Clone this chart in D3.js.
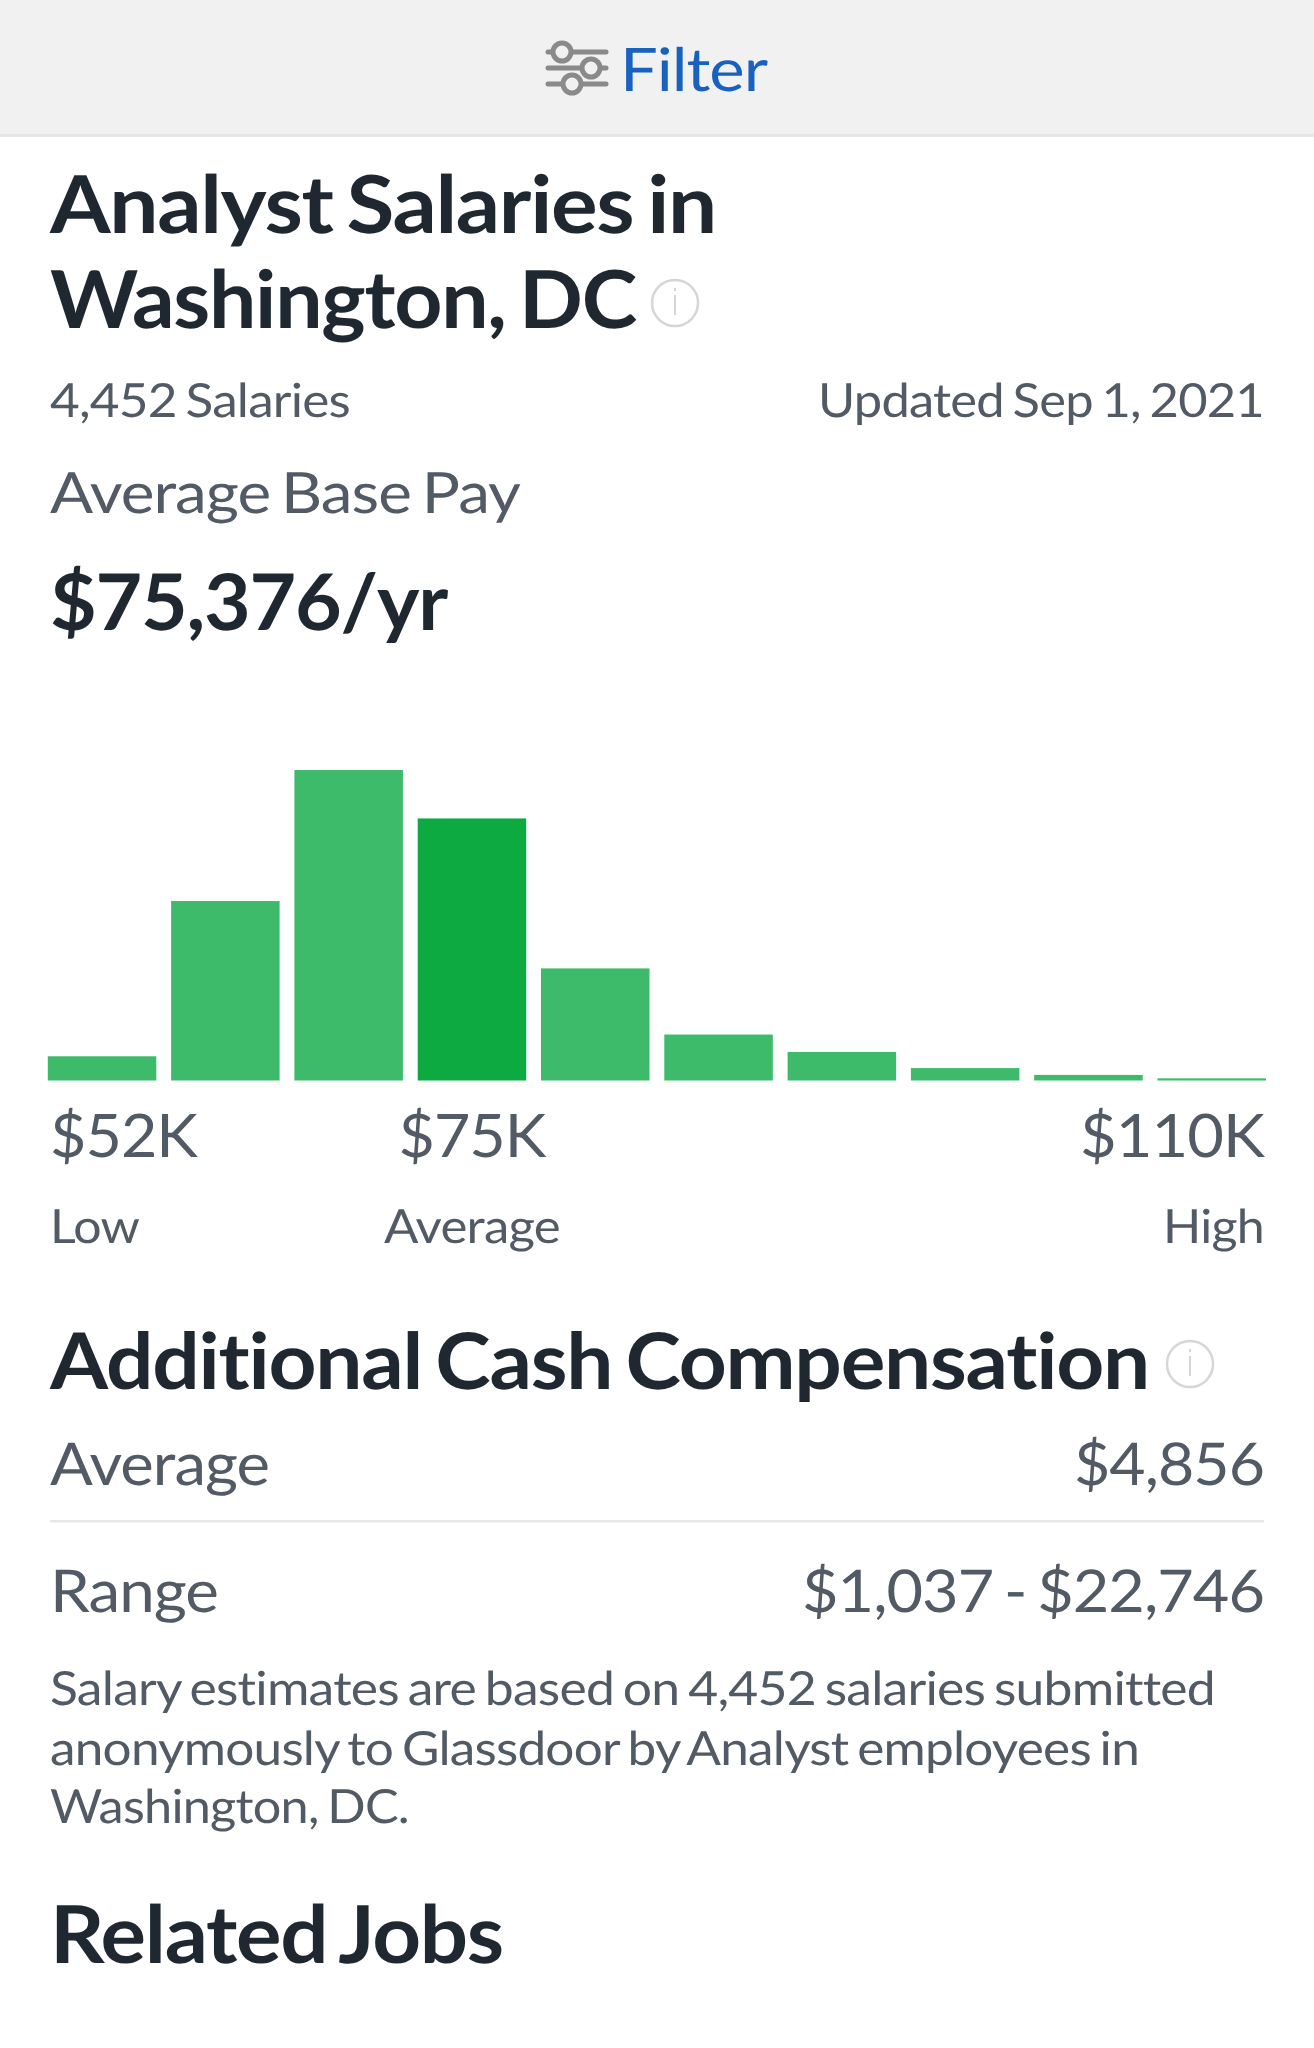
<!DOCTYPE html>
<html><head><meta charset="utf-8">
<script src="https://cdn.jsdelivr.net/npm/d3@7/dist/d3.min.js"></script>
<style>html,body{margin:0;padding:0;background:#fff}svg{display:block}
text{font-family:Lato,sans-serif;font-variant-ligatures:none;text-rendering:geometricPrecision;word-spacing:-0.07em;letter-spacing:-0.015em}</style>
</head><body><svg id="c" width="1314" height="2048"></svg>
<script>
const bins=["b1","b2","b3","b4","b5","b6","b7","b8","b9","b10"];
const shares=[7.8,57.8,100,84.4,36.1,14.8,9.2,4,1.8,0.7];
const highlightBin="b4";
const tickLabels=["$52K","$75K","$110K"];
const tickNames=["Low","Average","High"];
const tickBins=["b1","b4","b10"];
const dark="#1f2831",grey="#525a65";
const svg=d3.select("#c");
svg.append("rect").attr("width",1314).attr("height",134).attr("fill","#f1f1f1");
svg.append("rect").attr("y",134).attr("width",1314).attr("height",3).attr("fill","#e6e6e6");

const t=(s,x0,x1,base,size,fill,weight)=>svg.append("text").text(s).attr("x",x0).attr("y",base)
  .attr("font-size",size).attr("fill",fill).attr("font-weight",weight||400)
  .attr("textLength",x1-x0).attr("lengthAdjust","spacingAndGlyphs");
t("Filter",620,767,91,60,"#1861bf");
t("Analyst Salaries in",50,716,233,80,dark,700);
t("Washington, DC",50,636,328,80,dark,700);
t("4,452 Salaries",50,350,417,47,grey);
t("Updated Sep 1, 2021",818,1264,417,47,grey);
t("Average Base Pay",50,520,513,57,grey);
t("$75,376/yr",50,447,630,78,dark,700);
t("Additional Cash Compensation",50,1149,1389,78,dark,700);
t("Average",50,269,1485,59,grey);
t("$4,856",1074,1264,1485,59,grey);
t("Range",50,218,1612,59,grey);
t("$1,037 - $22,746",802,1264,1612,59,grey);
t("Salary estimates are based on 4,452 salaries submitted",50,1215,1705,47,grey);
t("anonymously to Glassdoor by Analyst employees in",50,1139,1765,47,grey);
t("Washington, DC.",50,409,1823,47,grey);
t("Related Jobs",50,503,1963,80,dark,700);
svg.append("rect").attr("x",50).attr("y",1520).attr("width",1214).attr("height",2.5).attr("fill","#e6e7e9");

// info icons
[[675,303],[1190,1364]].forEach(([cx,cy])=>{
  const g=svg.append("g").attr("transform",`translate(${cx},${cy})`);
  g.append("circle").attr("r",23).attr("fill","none").attr("stroke","#d6d6d6").attr("stroke-width",2.5);
  g.append("rect").attr("x",-1).attr("y",-8).attr("width",2).attr("height",20).attr("fill","#d6d6d6");
  g.append("rect").attr("x",-1).attr("y",-15).attr("width",2).attr("height",3).attr("fill","#d6d6d6");
});
// filter icon
const ic=svg.append("g").attr("stroke","#8a8a8a").attr("stroke-width",5).attr("fill","none").attr("stroke-linecap","round");
[[562,52],[591,68],[572,84]].forEach(([cx,cy])=>{
  ic.append("line").attr("x1",548).attr("x2",606).attr("y1",cy).attr("y2",cy);
  ic.append("circle").attr("cx",cx).attr("cy",cy).attr("r",9).attr("fill","#f1f1f1");
});

const x=d3.scaleBand().domain(bins).range([47.8,1266]).paddingInner(0.12).paddingOuter(0);
const y=d3.scaleLinear().domain([0,100]).range([1080.5,770]);
svg.append("g").selectAll("rect").data(bins).join("rect")
  .attr("x",d=>x(d)).attr("width",x.bandwidth())
  .attr("y",(d,i)=>y(shares[i])).attr("height",(d,i)=>y(0)-y(shares[i]))
  .attr("fill",d=>d===highlightBin?"#0caa41":"#3dbb6a");

// axis labels placed from the band scale
tickLabels.forEach((s,i)=>{
  const cx=x(tickBins[i])+x.bandwidth()/2, w=[147,147,184][i];
  const x0=i===0?50:i===1?cx-w/2:1264-w;
  t(s,x0,x0+w,1157,60,grey);
});
tickNames.forEach((s,i)=>{
  const cx=x(tickBins[i])+x.bandwidth()/2, w=[89,176,101][i];
  const x0=i===0?50:i===1?cx-w/2:1264-w;
  t(s,x0,x0+w,1243,47,grey);
});
</script></body></html>
